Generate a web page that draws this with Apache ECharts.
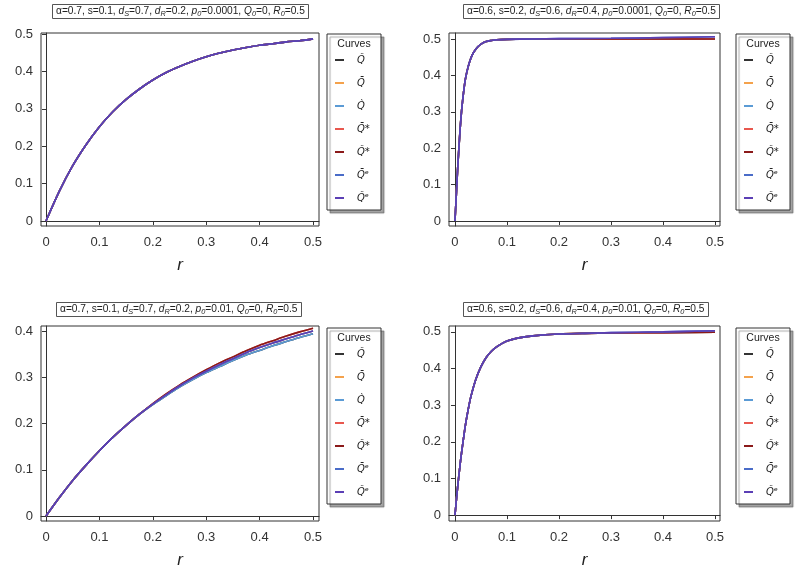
<!DOCTYPE html>
<html>
<head>
<meta charset="utf-8">
<script src="https://cdn.jsdelivr.net/npm/echarts@6/dist/echarts.min.js"></script>
<style>html,body{margin:0;padding:0;background:#fff}#c{width:800px;height:570px}</style>
</head>
<body>
<div id="c"></div>
<script>
// ---- data ----
const curveNames = ['Q̆', 'Q̄', 'Q̀', 'Q̄*', 'Q̆*', 'Q̄ᵉ', 'Q̆ᵉ'];
const xTickValues = [0, 0.1, 0.2, 0.3, 0.4, 0.5];
const yTicksFull = [0, 0.1, 0.2, 0.3, 0.4, 0.5];
const yTicksBL = [0, 0.1, 0.2, 0.3, 0.4];

// top-left panel
const rTL = [0,0.025,0.05,0.075,0.1,0.125,0.15,0.175,0.2,0.225,0.25,0.275,0.3,0.325,0.35,0.375,0.4,0.425,0.45,0.475,0.5];
const qTL = [0,0.080,0.148,0.204,0.252,0.292,0.325,0.353,0.377,0.397,0.413,0.427,0.439,0.449,0.457,0.464,0.470,0.474,0.479,0.482,0.487];

// top-right panel
const rTR = [0,0.0025,0.005,0.0075,0.01,0.0125,0.015,0.0175,0.02,0.025,0.03,0.035,0.04,0.045,0.05,0.06,0.07,0.08,0.1,0.15,0.2,0.3,0.4,0.5];
const qTRa = [0,0.07,0.14,0.20,0.255,0.30,0.335,0.365,0.39,0.422,0.445,0.461,0.472,0.480,0.486,0.493,0.496,0.498,0.499,0.500,0.500,0.500,0.500,0.500];
const qTRb = [0,0.07,0.14,0.20,0.255,0.30,0.335,0.365,0.39,0.422,0.445,0.461,0.472,0.480,0.486,0.493,0.496,0.498,0.499,0.500,0.501,0.502,0.504,0.506];

// bottom-left panel
const rBL = [0,0.025,0.05,0.075,0.1,0.125,0.15,0.175,0.2,0.225,0.25,0.275,0.3,0.325,0.35,0.375,0.4,0.425,0.45,0.475,0.5];
const qBLmid = [0,0.040,0.077,0.110,0.141,0.170,0.196,0.220,0.242,0.262,0.281,0.298,0.313,0.327,0.340,0.353,0.364,0.374,0.383,0.392,0.400];
const qBLhi  = [0,0.040,0.077,0.110,0.141,0.170,0.196,0.220,0.243,0.264,0.283,0.300,0.316,0.331,0.344,0.357,0.369,0.379,0.389,0.398,0.406];
const qBLlo  = [0,0.040,0.077,0.110,0.141,0.170,0.196,0.220,0.241,0.260,0.279,0.295,0.310,0.323,0.336,0.348,0.358,0.368,0.377,0.386,0.394];

// bottom-right panel
const rBR = [0,0.005,0.01,0.015,0.02,0.025,0.03,0.04,0.05,0.06,0.07,0.08,0.09,0.1,0.12,0.15,0.2,0.25,0.3,0.4,0.5];
const qBRa = [0,0.075,0.14,0.195,0.245,0.285,0.32,0.37,0.405,0.43,0.447,0.459,0.468,0.475,0.483,0.489,0.494,0.496,0.497,0.498,0.499];
const qBRb = [0,0.075,0.14,0.195,0.245,0.285,0.32,0.37,0.405,0.43,0.447,0.459,0.468,0.475,0.483,0.489,0.494,0.496,0.498,0.500,0.503];

const titleTexts = [
  '{t|α=0.7, s=0.1, }{i|d}{s|S}{t|=0.7, }{i|d}{s|R}{t|=0.2, }{i|p}{s|0}{t|=0.0001, }{i|Q}{s|0}{t|=0, }{i|R}{s|0}{t|=0.5}',
  '{t|α=0.6, s=0.2, }{i|d}{s|S}{t|=0.6, }{i|d}{s|R}{t|=0.4, }{i|p}{s|0}{t|=0.0001, }{i|Q}{s|0}{t|=0, }{i|R}{s|0}{t|=0.5}',
  '{t|α=0.7, s=0.1, }{i|d}{s|S}{t|=0.7, }{i|d}{s|R}{t|=0.2, }{i|p}{s|0}{t|=0.01, }{i|Q}{s|0}{t|=0, }{i|R}{s|0}{t|=0.5}',
  '{t|α=0.6, s=0.2, }{i|d}{s|S}{t|=0.6, }{i|d}{s|R}{t|=0.4, }{i|p}{s|0}{t|=0.01, }{i|Q}{s|0}{t|=0, }{i|R}{s|0}{t|=0.5}'
];

// ---- styling / layout ----
const colors = ['#333333', '#f4a24c', '#5b9bd5', '#e8574e', '#8b1a1a', '#4a6cc8', '#5b3fb5'];
const FONT = 'Liberation Sans';

const panels = [
  { grid: {left: 41, top: 33, width: 278, height: 193}, xr: [-0.0094, 0.5112], yr: [-0.0134, 0.5027], yt: yTicksFull,
    x: rTL, ys: [qTL, qTL, qTL, qTL, qTL, qTL, qTL],
    title: {left: 52, top: 4}, leg: {x: 327, y: 34} },
  { grid: {left: 449, top: 33, width: 271, height: 193}, xr: [-0.0115, 0.5096], yr: [-0.0137, 0.5165], yt: yTicksFull,
    x: rTR, ys: [qTRa, qTRa, qTRa, qTRa, qTRa, qTRb, qTRb],
    title: {left: 463, top: 4}, leg: {x: 736, y: 34} },
  { grid: {left: 41, top: 326, width: 278, height: 197}, xr: [-0.0094, 0.5112], yr: [-0.0107, 0.4107], yt: yTicksBL,
    x: rBL, ys: [qBLlo, qBLmid, qBLlo, qBLhi, qBLhi, qBLmid, qBLmid],
    title: {left: 56, top: 302}, leg: {x: 327, y: 328} },
  { grid: {left: 449, top: 326, width: 271, height: 197}, xr: [-0.0115, 0.5096], yr: [-0.016, 0.516], yt: yTicksFull,
    x: rBR, ys: [qBRa, qBRa, qBRa, qBRa, qBRa, qBRb, qBRb],
    title: {left: 463, top: 302}, leg: {x: 736, y: 328} }
];

const fmt = v => (Math.abs(v) < 1e-9 ? '0' : String(+v.toFixed(1)));

const option = {
  animation: false,
  backgroundColor: '#fff',
  title: [], grid: [], xAxis: [], yAxis: [], series: [], legend: [], graphic: []
};

panels.forEach((p, i) => {
  option.grid.push(Object.assign({show: true, borderColor: '#333', borderWidth: 1, backgroundColor: 'transparent'}, p.grid));
  option.title.push({
    text: titleTexts[i], left: p.title.left, top: p.title.top,
    borderColor: '#555', borderWidth: 1, padding: [2, 4],
    textStyle: {
      fontWeight: 'normal',
      rich: {
        t: {fontFamily: FONT, fontSize: 10.2, fontWeight: 'normal', color: '#222'},
        i: {fontFamily: FONT, fontSize: 10.2, fontWeight: 'normal', fontStyle: 'italic', color: '#222'},
        s: {fontFamily: FONT, fontSize: 7.3, fontWeight: 'normal', fontStyle: 'italic', color: '#222', verticalAlign: 'bottom', padding: [4, 0, 0, 0]}
      }
    }
  });
  option.xAxis.push({
    type: 'value', gridIndex: i, min: p.xr[0], max: p.xr[1],
    name: 'r', nameLocation: 'middle', nameGap: 31,
    nameTextStyle: {fontFamily: FONT, fontSize: 17, fontStyle: 'italic', color: '#222'},
    axisLine: {show: true, lineStyle: {color: '#333'}},
    axisTick: {show: true, length: 4, customValues: xTickValues, lineStyle: {color: '#333'}},
    axisLabel: {customValues: xTickValues, formatter: fmt, fontFamily: FONT, fontSize: 13, color: '#333', margin: 10},
    splitLine: {show: false}
  });
  option.yAxis.push({
    type: 'value', gridIndex: i, min: p.yr[0], max: p.yr[1],
    axisLine: {show: true, lineStyle: {color: '#333'}},
    axisTick: {show: true, length: 4, customValues: p.yt, lineStyle: {color: '#333'}},
    axisLabel: {customValues: p.yt, formatter: fmt, fontFamily: FONT, fontSize: 13, color: '#333', margin: 8},
    splitLine: {show: false}
  });
  curveNames.forEach((n, k) => {
    option.series.push({
      type: 'line', name: n, xAxisIndex: i, yAxisIndex: i,
      data: p.x.map((x, j) => [x, p.ys[k][j]]),
      showSymbol: false, smooth: 0.3,
      lineStyle: {width: 1.6, color: colors[k]}, itemStyle: {color: colors[k]}
    });
  });
  option.graphic.push({
    type: 'rect', z: 1, shape: {x: p.leg.x, y: p.leg.y, width: 54, height: 176},
    style: {fill: '#fff', stroke: '#333', lineWidth: 1, shadowColor: 'rgba(0,0,0,0.35)', shadowOffsetX: 3, shadowOffsetY: 3, shadowBlur: 1}
  });
  option.graphic.push({
    type: 'text', z: 2, x: p.leg.x + 27, y: p.leg.y + 10,
    style: {text: 'Curves', font: '10.5px "' + FONT + '"', fill: '#222', align: 'center', verticalAlign: 'middle'}
  });
  option.legend.push({
    data: curveNames, orient: 'vertical', left: p.leg.x + 8, top: p.leg.y + 19, z: 10, padding: 0,
    icon: 'rect', itemWidth: 9, itemHeight: 2, itemGap: 9,
    textStyle: {fontFamily: 'DejaVu Sans', fontStyle: 'italic', fontSize: 10, color: '#222', lineHeight: 14, padding: [0, 0, 0, 8]},
    selectedMode: false
  });
});

const chart = echarts.init(document.getElementById('c'), null, {renderer: 'canvas'});
chart.setOption(option);
</script>
</body>
</html>
